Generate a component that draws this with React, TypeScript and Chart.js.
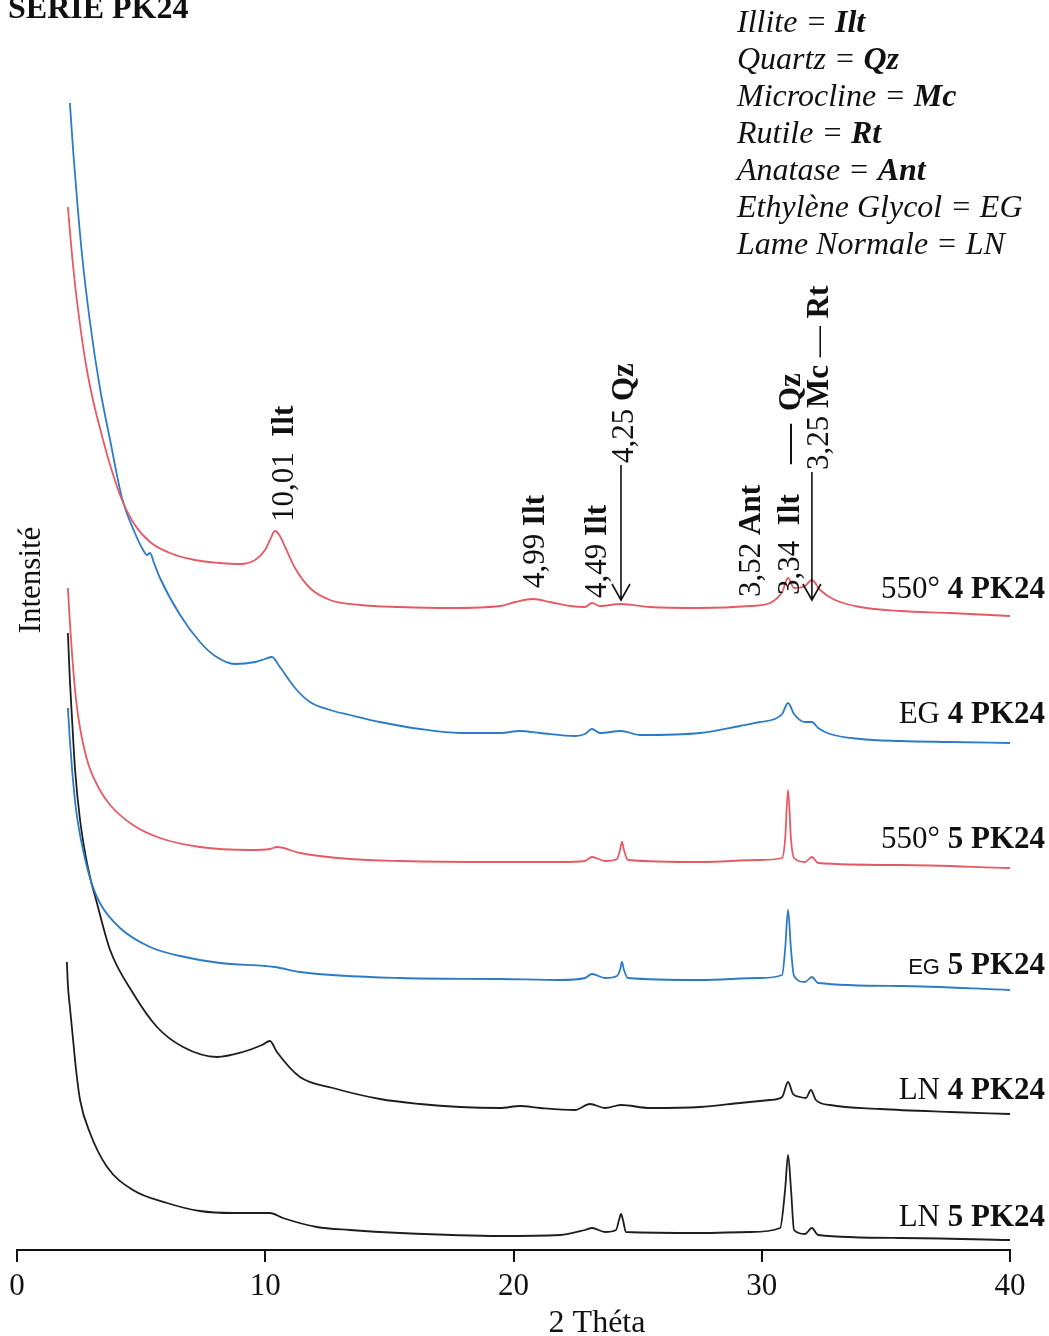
import React, { useEffect, useRef } from "react";
import { Chart, registerables } from "chart.js";

Chart.register(...registerables);

const SERIF = '"Liberation Serif", "Times New Roman", serif';
const SANS = '"Liberation Sans", Arial, sans-serif';

// ---- Data: 2θ (degrees) and stacked intensity (arbitrary units) ----
const theta550_4 = [2.05, 2.18, 2.34, 2.54, 2.78, 3.06, 3.34, 3.75, 4.23, 4.75, 5.36, 6.16, 7.17, 8.18, 8.98, 9.59, 9.99, 10.19, 10.39, 10.59, 10.8, 11.2, 11.8, 12.61, 13.82, 15.43, 17.44, 19.46, 20.06, 20.79, 21.47, 22.28, 22.88, 23.16, 23.48, 24.33, 25.5, 27.51, 29.53, 30.33, 30.82, 31.06, 31.3, 31.74, 32.02, 32.35, 32.95, 33.96, 35.57, 37.58, 40.0];
const int550_4 = [1043, 1005, 965, 925, 885, 850, 822, 785, 750, 725, 708, 697, 690, 687, 686, 690, 700, 710, 719, 714, 703, 682, 662, 650, 645, 643, 642, 644, 648, 651, 648, 644, 643, 647, 644, 646, 643, 642, 644, 647, 658, 672, 662, 664, 670, 660, 650, 643, 639, 637, 634];

const thetaEG_4 = [2.13, 2.26, 2.42, 2.62, 2.94, 3.34, 3.75, 4.23, 4.75, 5.08, 5.24, 5.36, 5.52, 5.76, 6.57, 7.37, 7.98, 8.78, 9.59, 9.99, 10.27, 10.59, 11.2, 11.8, 12.61, 13.41, 14.62, 16.23, 17.85, 19.46, 20.26, 21.07, 22.48, 22.88, 23.16, 23.48, 24.33, 25.1, 27.51, 29.12, 29.93, 30.53, 30.82, 31.06, 31.3, 31.74, 32.02, 32.27, 32.75, 33.96, 35.57, 37.58, 40.0];
const intEG_4 = [1147, 1100, 1050, 995, 928, 862, 810, 752, 717, 700, 695, 697, 687, 672, 635, 608, 594, 586, 588, 591, 593, 583, 562, 548, 540, 535, 528, 521, 517, 517, 519, 517, 514, 516, 521, 517, 519, 515, 517, 524, 528, 531, 536, 547, 536, 528, 528, 522, 516, 511, 509, 508, 507];

const theta550_5 = [2.05, 2.13, 2.22, 2.38, 2.54, 2.86, 3.34, 3.75, 4.67, 5.76, 7.37, 9.39, 10.19, 10.47, 11.4, 13.41, 15.43, 19.46, 21.87, 22.88, 23.16, 23.69, 24.17, 24.29, 24.37, 24.45, 24.61, 27.51, 29.93, 30.82, 30.94, 31.06, 31.18, 31.3, 31.74, 32.02, 32.27, 35.57, 40.0];
const int550_5 = [662, 628, 595, 550, 522, 487, 460, 445, 425, 412, 403, 400, 401, 403, 397, 391, 389, 388, 388, 389, 393, 389, 391, 400, 408, 400, 390, 388, 390, 392, 410, 460, 410, 392, 388, 393, 387, 385, 382];

const thetaEG_5 = [2.05, 2.13, 2.22, 2.38, 2.54, 2.94, 3.34, 4.15, 5.36, 6.57, 8.18, 9.99, 10.39, 11.4, 15.43, 19.46, 21.87, 22.88, 23.16, 23.69, 24.17, 24.29, 24.37, 24.45, 24.61, 27.51, 29.93, 30.82, 30.94, 31.06, 31.18, 31.3, 31.74, 32.02, 32.27, 35.57, 40.0];
const intEG_5 = [542, 510, 480, 440, 415, 372, 347, 322, 303, 294, 287, 284, 283, 278, 272, 271, 270, 272, 276, 272, 274, 280, 288, 280, 272, 270, 272, 275, 300, 340, 300, 274, 268, 273, 267, 264, 260];

const thetaLN_4 = [2.05, 2.13, 2.22, 2.34, 2.54, 2.86, 3.22, 3.75, 4.67, 5.64, 6.69, 8.06, 9.1, 9.87, 10.19, 10.47, 11.4, 12.73, 14.62, 16.23, 17.85, 19.46, 20.26, 21.07, 22.48, 23.08, 23.69, 24.33, 25.5, 27.51, 29.12, 30.33, 30.82, 31.06, 31.26, 31.54, 31.78, 31.98, 32.18, 32.75, 34.76, 37.58, 40.0];
const intLN_4 = [617, 570, 530, 480, 430, 382, 347, 300, 257, 223, 203, 193, 198, 205, 209, 198, 173, 162, 151, 146, 143, 142, 144, 142, 140, 146, 142, 145, 142, 143, 147, 150, 153, 168, 156, 153, 152, 160, 150, 145, 141, 138, 136];

const thetaLN_5 = [2.01, 2.05, 2.13, 2.26, 2.38, 2.54, 2.94, 3.63, 4.67, 6.04, 7.37, 8.7, 10.19, 10.71, 12.08, 13.41, 15.43, 19.46, 21.87, 22.88, 23.16, 23.69, 24.13, 24.25, 24.33, 24.41, 24.53, 27.51, 29.53, 30.74, 30.94, 31.06, 31.18, 31.3, 31.74, 32.02, 32.27, 35.57, 40.0];
const intLN_5 = [288, 265, 243, 210, 180, 150, 117, 83, 60, 47, 39, 37, 37, 32, 23, 20, 17, 14, 15, 20, 22, 18, 20, 30, 36, 30, 18, 17, 18, 22, 60, 95, 60, 20, 16, 22, 15, 12, 10];

const seriesThetas = [theta550_4, thetaEG_4, theta550_5, thetaEG_5, thetaLN_4, thetaLN_5];
const seriesInts = [int550_4, intEG_4, int550_5, intEG_5, intLN_4, intLN_5];
const seriesPrefix = ["550° ", "EG ", "550° ", "EG", "LN ", "LN "];
const seriesSuffix = ["4 PK24", "4 PK24", "5 PK24", " 5 PK24", "4 PK24", "5 PK24"];
const seriesColors = ["#e65a64", "#2c7bc6", "#e65a64", "#2c7bc6", "#1e1e1e", "#1e1e1e"];
const seriesLabelLevel = [662, 537, 412, 286, 161, 34];

const xTickStep = 10;
const xMin = 0;
const xMax = 40;
const yMax = 1250;
const xTitle = "2 Théta";
const yTitle = "Intensité";
const chartTitle = "SERIE PK24";

// peak annotations (2θ, intensity where the rotated text starts, text parts)
type Seg = { t: string; b?: boolean; i?: boolean; size?: number; fam?: string };
const peakTheta = [10.71, 20.83, 23.32, 24.41, 29.53, 31.1, 31.14, 31.14, 32.27];
const peakBase = [728, 662, 652, 787, 653, 655, 786, 839, 780];
const peakText: Seg[][] = [
  [{ t: "10,01  " }, { t: "Ilt", b: true }],
  [{ t: "4,99 " }, { t: "Ilt", b: true }],
  [{ t: "4,49 " }, { t: "Ilt", b: true }],
  [{ t: "4,25 " }, { t: "Qz", b: true }],
  [{ t: "3,52 " }, { t: "Ant", b: true }],
  [{ t: "3,34  " }, { t: "Ilt", b: true }],
  [{ t: "—", size: 40 }],
  [{ t: "Qz", b: true }],
  [{ t: "3,25 " }, { t: "Mc", b: true }, { t: " — " }, { t: "Rt", b: true }],
];
const arrowTheta = [24.33, 32.02];
const arrowFrom = [785, 778];
const arrowTo = [650, 650];

const legendLines: Seg[][] = [
  [{ t: "Illite = ", i: true }, { t: "Ilt", i: true, b: true }],
  [{ t: "Quartz = ", i: true }, { t: "Qz", i: true, b: true }],
  [{ t: "Microcline = ", i: true }, { t: "Mc", i: true, b: true }],
  [{ t: "Rutile = ", i: true }, { t: "Rt", i: true, b: true }],
  [{ t: "Anatase = ", i: true }, { t: "Ant", i: true, b: true }],
  [{ t: "Ethylène Glycol = EG", i: true }],
  [{ t: "Lame Normale = LN", i: true }],
];

const FS = 31;

function fontOf(s: Seg, base: number) {
  return `${s.i ? "italic " : ""}${s.b ? "bold " : ""}${s.size ?? base}px ${s.fam ?? SERIF}`;
}
function widthOf(ctx: CanvasRenderingContext2D, segs: Seg[], base: number) {
  let w = 0;
  for (const s of segs) {
    ctx.font = fontOf(s, base);
    w += ctx.measureText(s.t).width;
  }
  return w;
}
function drawSegs(ctx: CanvasRenderingContext2D, segs: Seg[], x: number, y: number, base: number) {
  let cx = x;
  for (const s of segs) {
    ctx.font = fontOf(s, base);
    ctx.fillText(s.t, cx, y);
    cx += ctx.measureText(s.t).width;
  }
}

const textPlugin = {
  id: "xrdText",
  afterDraw(chart: any) {
    const ctx: CanvasRenderingContext2D = chart.ctx;
    const xs = chart.scales.x;
    const ys = chart.scales.y;
    ctx.save();
    ctx.fillStyle = "#111";
    ctx.strokeStyle = "#111";
    ctx.textBaseline = "alphabetic";
    ctx.textAlign = "left";

    // title
    ctx.font = `bold 32px ${SERIF}`;
    ctx.fillText(chartTitle, 8, 18);

    // x axis title
    ctx.save();
    ctx.textAlign = "center";
    ctx.font = `32px ${SERIF}`;
    ctx.fillText(xTitle, 597, 1332);
    ctx.restore();

    // y axis title
    ctx.save();
    ctx.translate(40, 580);
    ctx.rotate(-Math.PI / 2);
    ctx.textAlign = "center";
    ctx.font = `${FS}px ${SERIF}`;
    ctx.fillText(yTitle, 0, 0);
    ctx.restore();

    // legend (top right)
    legendLines.forEach((segs, i) => {
      drawSegs(ctx, segs, 737, 32 + i * 37, 32);
    });

    // series labels at right
    seriesPrefix.forEach((p, i) => {
      const pre: Seg = i === 3 ? { t: p, size: 22, fam: SANS } : { t: p };
      const segs: Seg[] = [pre, { t: seriesSuffix[i], b: true }];
      const w = widthOf(ctx, segs, FS);
      const y = ys.getPixelForValue(seriesLabelLevel[i]) + 10;
      drawSegs(ctx, segs, chart.width - 4 - w, y, FS);
    });

    // peak annotations (rotated)
    peakTheta.forEach((th, i) => {
      const px = xs.getPixelForValue(th);
      const py = ys.getPixelForValue(peakBase[i]);
      ctx.save();
      ctx.translate(px + 10, py);
      ctx.rotate(-Math.PI / 2);
      drawSegs(ctx, peakText[i], 0, 0, FS);
      ctx.restore();
    });

    // arrows
    ctx.lineWidth = 1.6;
    arrowTheta.forEach((th, i) => {
      const px = xs.getPixelForValue(th);
      const y1 = ys.getPixelForValue(arrowFrom[i]);
      const y2 = ys.getPixelForValue(arrowTo[i]);
      ctx.beginPath();
      ctx.moveTo(px, y1);
      ctx.lineTo(px, y2);
      ctx.moveTo(px - 9, y2 - 16);
      ctx.lineTo(px, y2);
      ctx.lineTo(px + 9, y2 - 16);
      ctx.stroke();
    });
    ctx.restore();
  },
};

export default function App() {
  const ref = useRef<HTMLCanvasElement | null>(null);
  useEffect(() => {
    if (!ref.current) return;
    const datasets = seriesThetas.map((th, i) => ({
      label: seriesPrefix[i] + seriesSuffix[i],
      data: th.map((x, j) => ({ x, y: seriesInts[i][j] })),
      borderColor: seriesColors[i],
      backgroundColor: seriesColors[i],
      borderWidth: 1.8,
      pointRadius: 0,
      fill: false,
      cubicInterpolationMode: "monotone" as const,
    }));
    const chart = new Chart(ref.current, {
      type: "line",
      data: { datasets },
      options: {
        responsive: false,
        animation: false,
        layout: { padding: { left: 17, right: 39, top: 0, bottom: 0 } },
        plugins: { legend: { display: false }, tooltip: { enabled: false }, title: { display: false } },
        scales: {
          x: {
            type: "linear",
            min: xMin,
            max: xMax,
            ticks: { stepSize: xTickStep, color: "#111", font: { family: SERIF, size: 31 }, padding: 6 },
            grid: { drawOnChartArea: false, drawTicks: true, tickLength: 12, color: "#111", lineWidth: 2 },
            border: { display: true, color: "#111", width: 2 },
            title: { display: false, text: xTitle },
            afterFit: (s: any) => {
              s.height = 86;
            },
          },
          y: { display: false, min: 0, max: yMax },
        },
      },
      plugins: [textPlugin],
    } as any);
    return () => chart.destroy();
  }, []);
  return (
    <div style={{ position: "absolute", left: 0, top: 0, width: 1049, height: 1336, background: "#fff" }}>
      <canvas ref={ref} width={1049} height={1336} style={{ display: "block" }} />
    </div>
  );
}
